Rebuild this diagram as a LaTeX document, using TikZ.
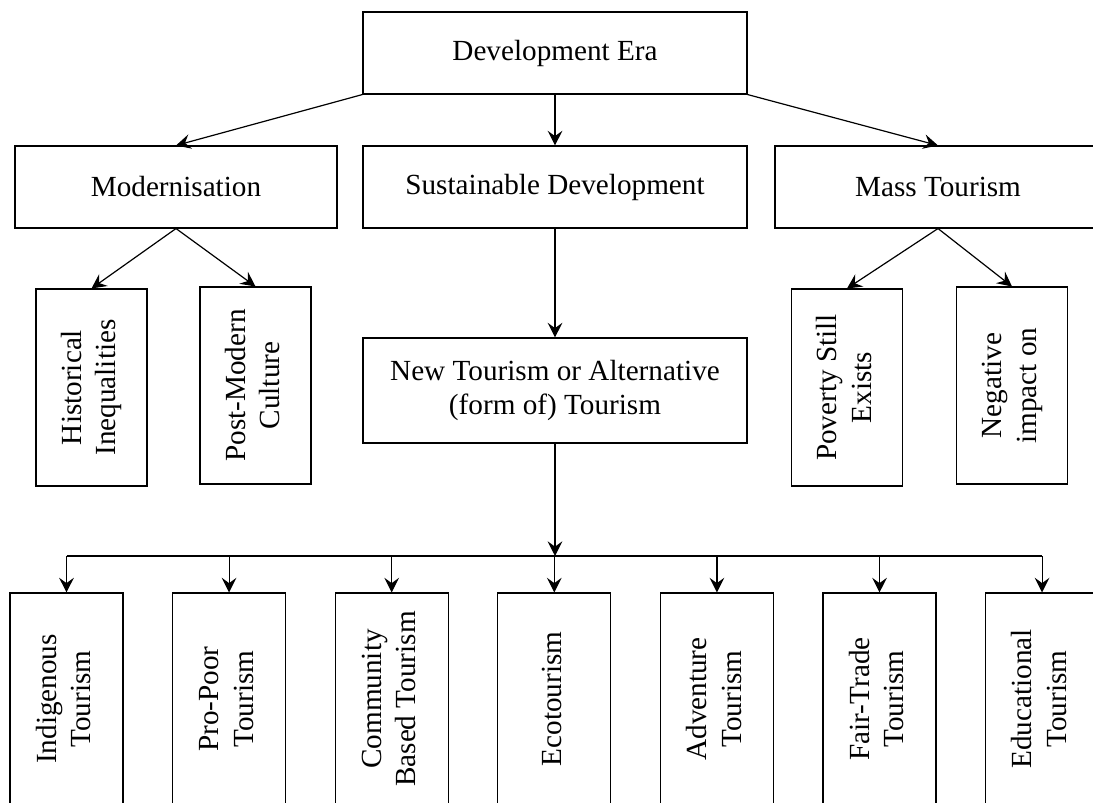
\documentclass[tikz,border=0pt]{standalone}
\usepackage{fontspec}
\setmainfont{Liberation Serif}
\usetikzlibrary{arrows.meta}
\newcommand{\vtext}[1]{\rotatebox{90}{\begin{tabular}{@{}c@{}}#1\end{tabular}}}
\begin{document}
\begin{tikzpicture}[x=0.75pt,y=-0.75pt,
  every node/.style={font=\fontsize{21.9}{26}\selectfont},
  hbox/.style={draw=black,line width=0.8pt,rectangle,inner sep=0pt,align=center},
  wide/.style={hbox,minimum width=288pt,minimum height=61.5pt},
  side/.style={hbox,minimum width=244.5pt,minimum height=61.5pt},
  midbox/.style={hbox,minimum width=83.25pt,minimum height=147.75pt},
  lowbox/.style={hbox,minimum width=84.75pt,minimum height=159pt},
  conn/.style={line width=0.9pt,-{Stealth[length=11pt,width=11pt,inset=4pt]}}
]
\useasboundingbox (0,0) rectangle (1093,803);
\clip (0,0) rectangle (1093,803);

\node[wide] (top) at (555,53) {Development Era};
\node[side,minimum width=241.5pt] (mod) at (176,187) {Modernisation};
\node[wide] (sus) at (555,187) {Sustainable Development};
\node[side] (mass) at (938,187) {Mass Tourism};

\node[midbox] (hist) at (91.5,387.5) {\vtext{Historical\\Inequalities}};
\node[midbox] (post) at (255.5,385.5) {\vtext{Post-Modern\\Culture}};
\node[midbox] (pov) at (847,387.5) {\vtext{Poverty Still\\Exists}};
\node[midbox] (neg) at (1012,385.5) {\vtext{Negative\\impact on}};

\node[wide,minimum height=78.75pt] (new) at (555,390.5) {New Tourism or Alternative\\(form of) Tourism};

\node[lowbox] (b1) at (66.5,699) {\vtext{Indigenous\\Tourism}};
\node[lowbox] (b2) at (229.1,699) {\vtext{Pro-Poor\\Tourism}};
\node[lowbox] (b3) at (391.7,699) {\vtext{Community\\Based Tourism}};
\node[lowbox] (b4) at (554.3,699) {\vtext{Ecotourism}};
\node[lowbox] (b5) at (716.9,699) {\vtext{Adventure\\Tourism}};
\node[lowbox] (b6) at (879.5,699) {\vtext{Fair-Trade\\Tourism}};
\node[lowbox] (b7) at (1042.1,699) {\vtext{Educational\\Tourism}};

\coordinate (bus) at (555,556);

\draw[conn] (top.south west) -- (mod.north);
\draw[conn] (top.south) -- (sus.north);
\draw[conn] (top.south east) -- (mass.north);

\draw[conn] (mod.south) -- (hist.north);
\draw[conn] (mod.south) -- (post.north);
\draw[conn] (mass.south) -- (pov.north);
\draw[conn] (mass.south) -- (neg.north);

\draw[conn] (sus.south) -- (new.north);
\draw[conn] (new.south) -- (bus);
\draw[line width=0.9pt] (b1.north |- bus) -- (b7.north |- bus);
\foreach \b in {b1,b2,b3,b4,b5,b6,b7}
  \draw[conn] (\b.north |- bus) -- (\b.north);
\end{tikzpicture}
\end{document}
